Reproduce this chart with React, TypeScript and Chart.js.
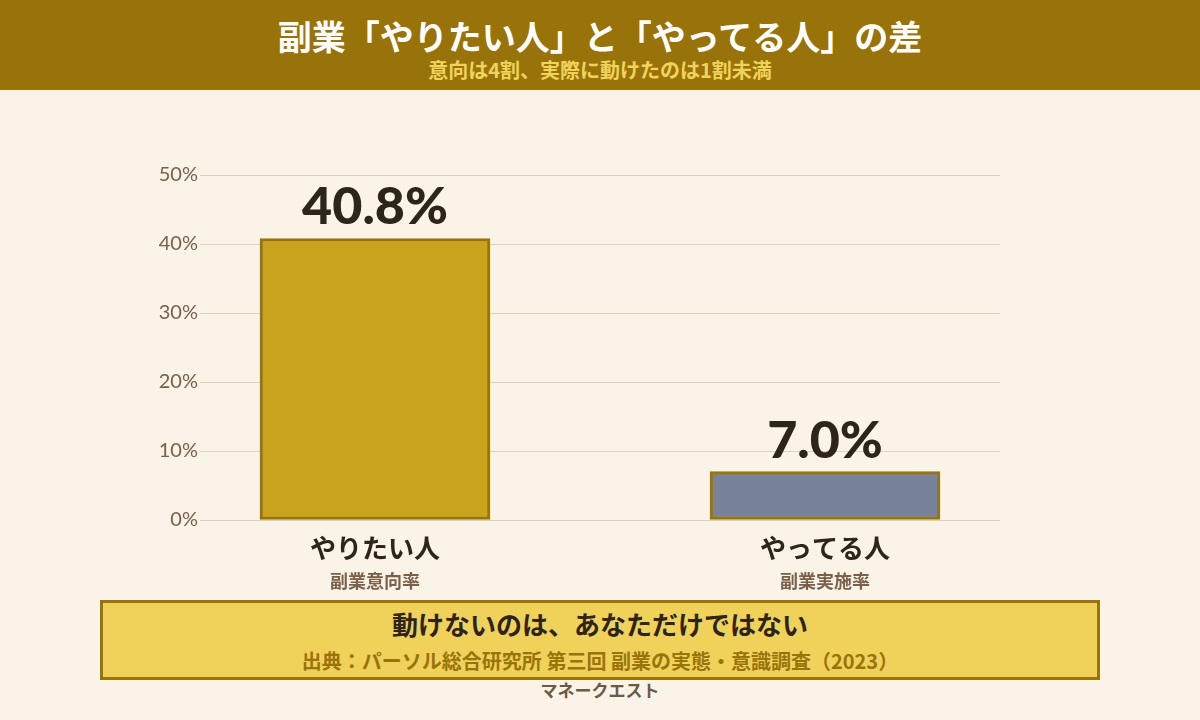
import React, { useEffect, useRef } from "react";
import { Chart, registerables } from "chart.js";

Chart.register(...registerables);

const categories = ["やりたい人", "やってる人"];
const subLabels = ["副業意向率", "副業実施率"];
const values = [40.8, 7.0];
const barColors = ["#c9a31e", "#788299"];
const yTicks = [0, 10, 20, 30, 40, 50];

const FONT = '"Noto Sans CJK JP", "Noto Sans", sans-serif';
const NUM_FONT = 'Lato, "Noto Sans CJK JP", sans-serif';

export default function App() {
  const canvasRef = useRef<HTMLCanvasElement | null>(null);

  useEffect(() => {
    document.body.style.margin = "0";
    const canvas = canvasRef.current;
    if (!canvas) return;

    const labelPlugin = {
      id: "valueLabels",
      afterDatasetsDraw(chart: any) {
        const ctx = chart.ctx;
        const meta = chart.getDatasetMeta(0);
        ctx.save();
        ctx.fillStyle = "#2d241a";
        ctx.font = `900 52px ${NUM_FONT}`;
        ctx.textAlign = "center";
        ctx.textBaseline = "alphabetic";
        meta.data.forEach((bar: any, i: number) => {
          ctx.fillText(values[i].toFixed(1) + "%", bar.x, bar.y - 14);
        });
        ctx.restore();
      },
    };

    const xMin = -7 / 18;
    const xMax = 25 / 18;
    const idxTicks = categories.map((_, i) => ({ value: i }));
    const pick = (arr: string[], v: number) => {
      const r = Math.round(v);
      if (Math.abs(v - r) < 1e-6 && r >= 0 && r < arr.length) return arr[r];
      return "";
    };

    const chart = new Chart(canvas, {
      type: "bar",
      data: {
        datasets: [
          {
            data: values.map((v, i) => ({ x: i, y: v })),
            backgroundColor: barColors,
            borderColor: "#98740a",
            borderWidth: 3,
            borderSkipped: false,
            barThickness: 230,
          } as any,
        ],
      },
      options: {
        animation: false,
        responsive: false,
        layout: { padding: { top: 75, right: 200, left: 0, bottom: 0 } },
        plugins: { legend: { display: false }, tooltip: { enabled: false } },
        scales: {
          y: {
            min: 0,
            max: 50,
            afterBuildTicks: (s: any) => {
              s.ticks = yTicks.map((v) => ({ value: v }));
            },
            afterFit: (s: any) => {
              s.width = 200;
            },
            border: { display: false },
            grid: { color: "#ddd2bd", lineWidth: 1, drawTicks: false },
            ticks: {
              padding: 2,
              color: "#7a6048",
              font: { family: NUM_FONT, size: 20 },
              callback: (v: any) => v + "%",
            },
          },
          x: {
            type: "linear",
            position: "bottom",
            offset: false,
            weight: 0,
            min: xMin,
            max: xMax,
            afterBuildTicks: (s: any) => {
              s.ticks = idxTicks.map((t) => ({ ...t }));
            },
            afterFit: (s: any) => {
              s.height = 50;
            },
            border: { display: false },
            grid: { display: false, drawTicks: false },
            ticks: {
              autoSkip: false,
              maxRotation: 0,
              padding: 13,
              color: "#2d241a",
              font: { family: FONT, size: 26, weight: "bold" },
              callback: (v: any) => pick(categories, Number(v)),
            },
          },
          x2: {
            type: "linear",
            position: "bottom",
            offset: false,
            weight: 1,
            min: xMin,
            max: xMax,
            afterBuildTicks: (s: any) => {
              s.ticks = idxTicks.map((t) => ({ ...t }));
            },
            afterFit: (s: any) => {
              s.height = 30;
            },
            border: { display: false },
            grid: { display: false, drawTicks: false },
            ticks: {
              autoSkip: false,
              maxRotation: 0,
              padding: 0,
              color: "#7a6048",
              font: { family: FONT, size: 18, weight: "bold" },
              callback: (v: any) => pick(subLabels, Number(v)),
            },
          },
        } as any,
      },
      plugins: [labelPlugin],
    });
    return () => chart.destroy();
  }, []);

  return (
    <div
      style={{
        position: "relative",
        width: 1200,
        height: 720,
        background: "#faf3e8",
        overflow: "hidden",
        fontFamily: FONT,
      }}
    >
      <div
        style={{
          position: "absolute",
          left: 0,
          top: 0,
          width: 1200,
          height: 90,
          background: "#987309",
        }}
      >
        <div
          style={{
            position: "absolute",
            left: 0,
            width: 1200,
            top: 36,
            transform: "translateY(-50%)",
            textAlign: "center",
            color: "#ffffff",
            fontWeight: "bold",
            fontSize: 34,
            lineHeight: 1,
          }}
        >
          副業「やりたい人」と「やってる人」の差
        </div>
        <div
          style={{
            position: "absolute",
            left: 0,
            width: 1200,
            top: 70,
            transform: "translateY(-50%)",
            textAlign: "center",
            color: "#f2d35a",
            fontWeight: "bold",
            fontSize: 20,
            lineHeight: 1,
          }}
        >
          意向は4割、実際に動けたのは1割未満
        </div>
      </div>
      <canvas
        ref={canvasRef}
        width={1200}
        height={500}
        style={{ position: "absolute", left: 0, top: 100, width: 1200, height: 500 }}
      />
      <div
        style={{
          position: "absolute",
          left: 100,
          top: 600,
          width: 1000,
          height: 80,
          boxSizing: "border-box",
          border: "3px solid #98740a",
          background: "#f0d25a",
        }}
      >
        <div
          style={{
            position: "absolute",
            left: 0,
            right: 0,
            top: 21,
            transform: "translateY(-50%)",
            textAlign: "center",
            color: "#2d241a",
            fontWeight: "bold",
            fontSize: 26,
            lineHeight: 1,
          }}
        >
          動けないのは、あなただけではない
        </div>
        <div
          style={{
            position: "absolute",
            left: 0,
            right: 0,
            top: 58,
            transform: "translateY(-50%)",
            textAlign: "center",
            color: "#98740a",
            fontWeight: "bold",
            fontSize: 20,
            lineHeight: 1,
          }}
        >
          出典：パーソル総合研究所 第三回 副業の実態・意識調査（2023）
        </div>
      </div>
      <div
        style={{
          position: "absolute",
          left: 0,
          width: 1200,
          top: 689,
          transform: "translateY(-50%)",
          textAlign: "center",
          color: "#6b5a45",
          fontWeight: "bold",
          fontSize: 17,
          lineHeight: 1,
        }}
      >
        マネークエスト
      </div>
    </div>
  );
}
